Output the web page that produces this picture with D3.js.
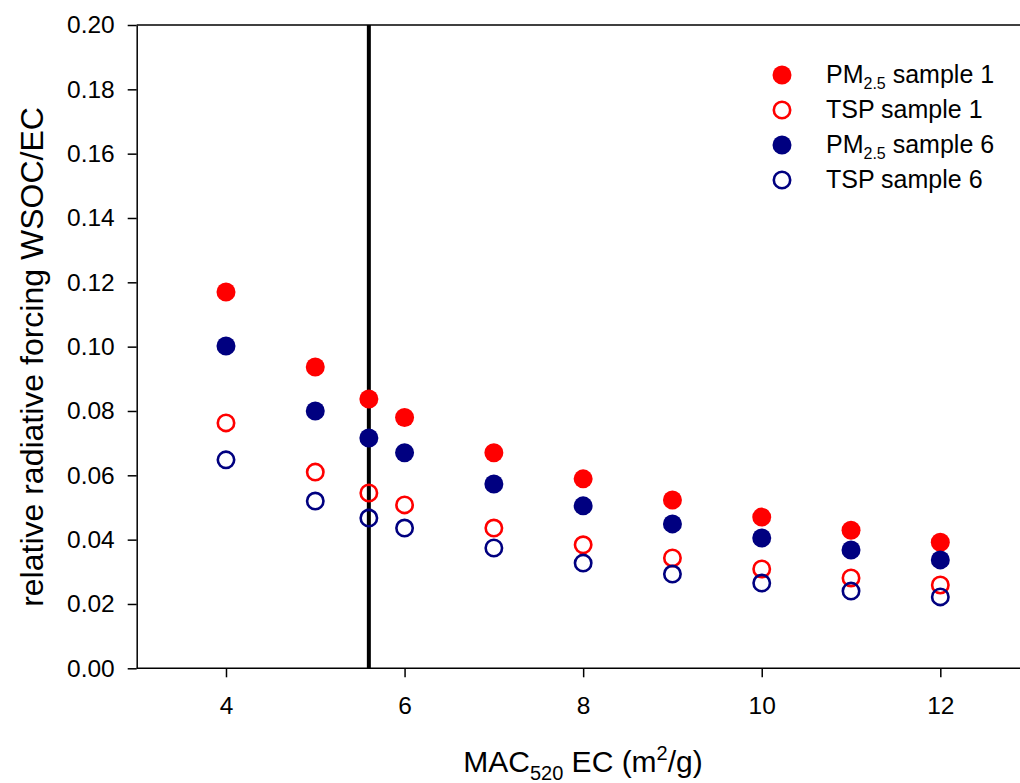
<!DOCTYPE html>
<html>
<head>
<meta charset="utf-8">
<script src="https://cdn.jsdelivr.net/npm/d3@7"></script>
<style>
  body { margin: 0; background: #fff; }
  svg { display: block; font-family: "Liberation Sans", Arial, sans-serif; }
</style>
</head>
<body>
<svg id="chart" width="1020" height="783"></svg>
<script>
// MAC520 EC values (m2/g)
var mac = [4, 5, 5.6, 6, 7, 8, 9, 10, 11, 12];
var pm1 = [0.117, 0.0937, 0.0837, 0.078, 0.067, 0.0589, 0.0523, 0.047, 0.0429, 0.0392];
var tsp1 = [0.0763, 0.061, 0.0545, 0.0508, 0.0436, 0.0384, 0.0343, 0.0309, 0.0281, 0.0259];
var pm6 = [0.1002, 0.080, 0.0716, 0.067, 0.0573, 0.0505, 0.0449, 0.0405, 0.0368, 0.0337];
var tsp6 = [0.0648, 0.052, 0.0467, 0.0436, 0.0374, 0.0327, 0.0293, 0.0265, 0.024, 0.0222];
var xTicks = [4, 6, 8, 10, 12];
var yTicks = [0, 0.02, 0.04, 0.06, 0.08, 0.10, 0.12, 0.14, 0.16, 0.18, 0.20];
var refLine = 5.6;

var series = [
  { name: 'PM', sub: '2.5', rest: ' sample 1', values: pm1, color: '#ff0000', filled: true },
  { name: 'TSP sample 1', values: tsp1, color: '#ff0000', filled: false },
  { name: 'PM', sub: '2.5', rest: ' sample 6', values: pm6, color: '#000080', filled: true },
  { name: 'TSP sample 6', values: tsp6, color: '#000080', filled: false }
];

(function () {
  var svg = d3.select('#chart');
  var plotLeft = 136.7, plotTop = 25, plotBottom = 668.3;

  var x = d3.scaleLinear().domain([3, 13]).range([plotLeft, plotLeft + 10 * 89.29]);
  var y = d3.scaleLinear().domain([0, 0.20]).range([plotBottom, plotTop]);

  // frame: top line
  svg.append('line')
    .attr('x1', plotLeft).attr('x2', 1030)
    .attr('y1', plotTop).attr('y2', plotTop)
    .style('stroke', '#000').style('stroke-width', 1.5);

  var yAxis = svg.append('g')
    .attr('transform', 'translate(' + plotLeft + ',0)')
    .call(d3.axisLeft(y).tickValues(yTicks).tickFormat(d3.format('.2f')).tickSize(9).tickSizeOuter(0).tickPadding(13));

  var xAxis = svg.append('g')
    .attr('transform', 'translate(0,' + plotBottom + ')')
    .call(d3.axisBottom(x).tickValues(xTicks).tickFormat(d3.format('d')).tickSize(9).tickSizeOuter(0).tickPadding(19));

  [yAxis, xAxis].forEach(function (ax) {
    ax.selectAll('path, line').style('stroke', '#000').style('stroke-width', 1.5);
    ax.selectAll('text').style('font-size', '24.5px').style('fill', '#000')
      .style('font-family', '"Liberation Sans", Arial, sans-serif');
  });
  xAxis.select('path.domain').attr('d', 'M' + plotLeft + ',0H1030');

  // vertical reference line
  svg.append('line')
    .attr('x1', x(refLine)).attr('x2', x(refLine))
    .attr('y1', plotTop).attr('y2', plotBottom)
    .style('stroke', '#000').style('stroke-width', 4);

  // points
  series.forEach(function (s) {
    svg.append('g').selectAll('circle')
      .data(s.values)
      .enter()
      .append('circle')
      .attr('cx', function (d, i) { return x(mac[i]); })
      .attr('cy', function (d) { return y(d); })
      .attr('r', s.filled ? 9.5 : 8.2)
      .style('fill', s.filled ? s.color : 'none')
      .style('stroke', s.filled ? 'none' : s.color)
      .style('stroke-width', 2.6);
  });

  // legend
  var legend = svg.append('g');
  series.forEach(function (s, i) {
    var ly = 75 + i * 35;
    legend.append('circle')
      .attr('cx', 782).attr('cy', ly)
      .attr('r', s.filled ? 9.5 : 8.2)
      .style('fill', s.filled ? s.color : 'none')
      .style('stroke', s.filled ? 'none' : s.color)
      .style('stroke-width', 2.6);
    var t = legend.append('text')
      .attr('x', 826).attr('y', ly + 8)
      .style('font-size', '25px');
    if (s.sub) {
      t.append('tspan').text(s.name);
      t.append('tspan').attr('dy', 6).style('font-size', '16px').text(s.sub);
      t.append('tspan').attr('dy', -6).text(s.rest);
    } else {
      t.text(s.name);
    }
  });

  // axis titles
  svg.append('text')
    .attr('transform', 'translate(43,' + 357 + ') rotate(-90)')
    .attr('text-anchor', 'middle')
    .style('font-size', '32px')
    .text('relative radiative forcing WSOC/EC');

  var xt = svg.append('text')
    .attr('x', 583).attr('y', 772)
    .attr('text-anchor', 'middle')
    .style('font-size', '30px');
  xt.append('tspan').text('MAC');
  xt.append('tspan').attr('dy', 8).style('font-size', '20px').text('520');
  xt.append('tspan').attr('dy', -8).text(' EC (m');
  xt.append('tspan').attr('dy', -12).style('font-size', '20px').text('2');
  xt.append('tspan').attr('dy', 12).text('/g)');
})();
</script>
</body>
</html>
